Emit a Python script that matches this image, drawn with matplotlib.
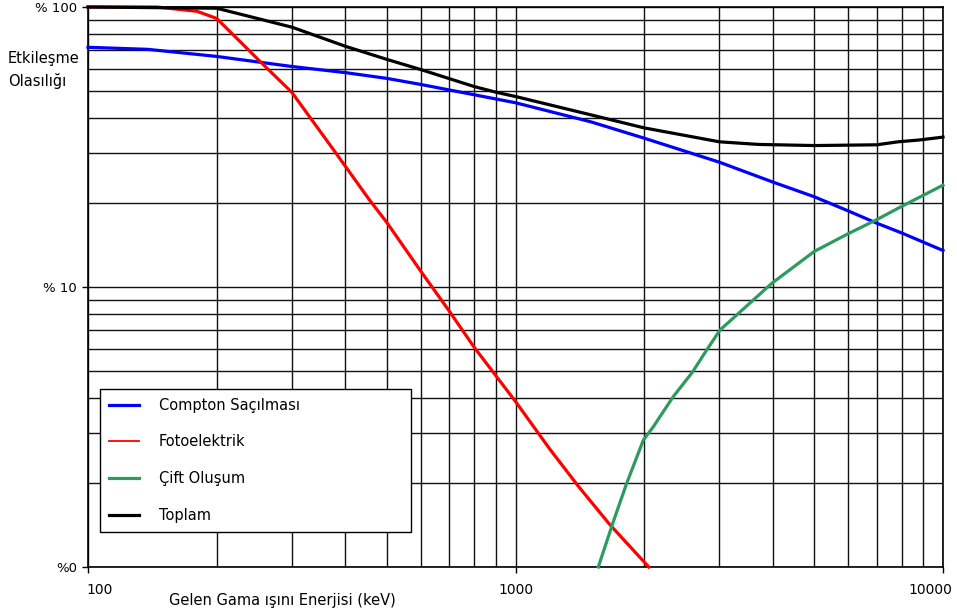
import matplotlib
matplotlib.use("Agg")
import matplotlib.pyplot as plt
import matplotlib.transforms as mtrans
from matplotlib.lines import Line2D
from matplotlib.ticker import FixedLocator

plt.rcParams['font.family'] = ['DejaVu Sans']

# ---- data ----
compton_E = [100, 138, 200, 300, 400, 500, 600, 800, 1000, 1500, 2000, 3000,
             4000, 5000, 6000, 7000, 8000, 10000]
compton_P = [71.8, 70.6, 66.6, 61.3, 58.3, 55.6, 52.9, 48.6, 45.5, 38.9, 34.0,
             27.9, 23.7, 21.0, 18.7, 16.9, 15.6, 13.5]

photo_E = [100, 145, 180, 200, 254, 300, 377, 455, 500, 600, 700, 800,
           1000, 1200, 1400, 1660, 2050]
photo_P = [100, 100, 96.5, 91, 63.4, 49.5, 30.6, 20.5, 17.0, 11.4, 8.2, 6.1,
           3.9, 2.65, 1.95, 1.42, 1.0]

pair_E = [1562, 1693, 1820, 1991, 2101, 2339, 2590, 2801, 3009, 3975, 5000,
          6000, 7000, 8000, 10000]
pair_P = [1.0, 1.45, 1.99, 2.84, 3.17, 4.06, 4.95, 5.96, 7.02, 10.3, 13.4,
          15.5, 17.4, 19.4, 23.1]

total_E = [100, 200, 300, 400, 500, 600, 800, 906, 1000, 1500, 2000, 3000,
           3700, 5000, 7000, 7850, 8800, 10000]
total_P = [100, 99, 84.7, 72.4, 65, 59.8, 52, 49.5, 47.9, 41.2, 37, 33, 32.3,
           32, 32.2, 33, 33.5, 34.3]

series_labels = ["Compton Saçılması", "Fotoelektrik", "Çift Oluşum", "Toplam"]
series_colors = ["#0000FF", "#FF0000", "#2E9B5E", "#000000"]

x_ticks = [100, 1000, 10000]
x_ticklabels = ["100", "1000", "10000"]
y_ticks = [1, 10, 100]
y_ticklabels = ["%0", "% 10", "% 100"]

xlabel = "Gelen Gama ışını Enerjisi (keV)"
ylabel = "Etkileşme\nOlasılığı"

# ---- figure ----
W, H = 957, 614
fig = plt.figure(figsize=(W / 100, H / 100), dpi=100)
L, R, T, B = 88, 943, 7, 567
ax = fig.add_axes([L / W, (H - B) / H, (R - L) / W, (B - T) / H])
ax.set_xscale('log')
ax.set_yscale('log')
ax.set_xlim(100, 10000)
ax.set_ylim(1, 100)

ax.grid(which='both', color='#111111', lw=1.0, zorder=1)
ax.set_axisbelow(True)

lw = 2.3
ax.plot(compton_E, compton_P, color=series_colors[0], lw=lw, zorder=3, clip_on=False)
ax.plot(photo_E, photo_P, color=series_colors[1], lw=lw, zorder=3, clip_on=False)
ax.plot(pair_E, pair_P, color=series_colors[2], lw=lw, zorder=3, clip_on=False)
ax.plot(total_E, total_P, color=series_colors[3], lw=lw, zorder=4, clip_on=False)

for s in ax.spines.values():
    s.set_color('black')
    s.set_linewidth(1.2)

ax.xaxis.set_major_locator(FixedLocator(x_ticks))
ax.yaxis.set_major_locator(FixedLocator(y_ticks))
ax.set_xticklabels(x_ticklabels)
ax.set_yticklabels(y_ticklabels)
ax.tick_params(which='major', length=4, width=1, color='black', direction='out')
ax.tick_params(axis='x', pad=7.5, labelsize=10)
ax.tick_params(axis='y', pad=4, labelsize=9.5)
ax.tick_params(which='minor', length=0)
xl = ax.get_xticklabels()
xl[0].set_ha('left')
xl[-1].set_ha('right')
xl[-1].set_transform(xl[-1].get_transform() + mtrans.Affine2D().translate(9, 0))
xl[0].set_transform(xl[0].get_transform() + mtrans.Affine2D().translate(-2, 0))

fig.text(282 / W, 1 - 600 / H, xlabel, ha='center', va='center', fontsize=10.5)
fig.text(8 / W, 1 - 70 / H, ylabel, ha='left', va='center', fontsize=10.5, linespacing=1.55)

handles = [Line2D([], [], color=series_colors[0], lw=2.3),
           Line2D([], [], color=series_colors[1], lw=1.3),
           Line2D([], [], color=series_colors[2], lw=2.3),
           Line2D([], [], color=series_colors[3], lw=2.3)]
leg = ax.legend(handles, series_labels, loc='lower left',
                bbox_to_anchor=(0.014, 0.0625, 0.364, 0.2585), mode='expand',
                fontsize=10.5, frameon=True, fancybox=False, framealpha=1,
                edgecolor='black', handlelength=2.05, handletextpad=1.4,
                labelspacing=1.5, borderpad=0.6, borderaxespad=0)
leg.get_frame().set_linewidth(1.0)
leg.set_zorder(5)

fig.savefig("out.png", dpi=100)
